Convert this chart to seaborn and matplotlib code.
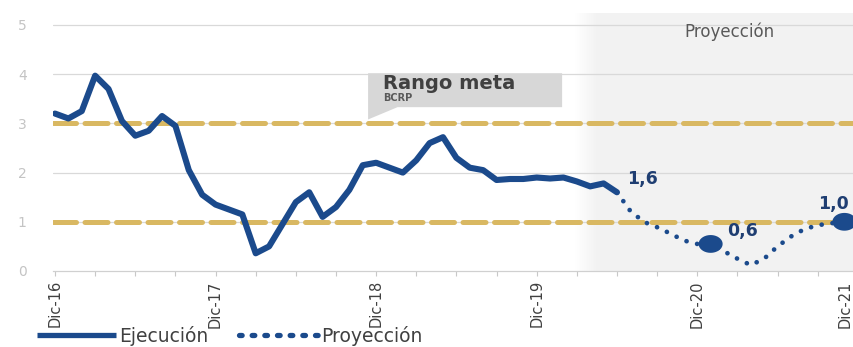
import numpy as np
import pandas as pd
import matplotlib
matplotlib.use("Agg")
import matplotlib.pyplot as plt
import matplotlib.transforms as mtransforms
from matplotlib.lines import Line2D
from matplotlib.patches import Polygon
from matplotlib.colors import LinearSegmentedColormap
import seaborn as sns

# ---------------- data ----------------
# month index 0 = Dic-16
exec_months = list(range(0, 43))
exec_values = [3.2, 3.1, 3.25, 3.97, 3.7, 3.05, 2.75, 2.85, 3.15, 2.95,
               2.05, 1.55, 1.35, 1.25, 1.15, 0.36, 0.5, 0.95, 1.4, 1.6,
               1.1, 1.3, 1.65, 2.15, 2.2, 2.1, 2.0, 2.25, 2.6, 2.72,
               2.3, 2.1, 2.05, 1.85, 1.87, 1.87, 1.9, 1.88, 1.9, 1.82,
               1.72, 1.78, 1.6]
proj_months = list(range(42, 60))
proj_values = [1.6, 1.22, 1.0, 0.89, 0.76, 0.62, 0.55, 0.55, 0.4, 0.25,
               0.12, 0.25, 0.5, 0.7, 0.85, 0.93, 0.97, 1.0]
marker_months = [49, 59]
marker_values = [0.55, 1.0]
label_months = [42, 49, 59]
label_values = [1.6, 0.55, 1.0]
label_texts = ["1,6", "0,6", "1,0"]
year_tick_labels = ["Dic-16", "Dic-17", "Dic-18", "Dic-19", "Dic-20", "Dic-21"]
target_band = [1, 3]
y_ticks = [0, 1, 2, 3, 4, 5]

NAVY = "#1b4a8c"
GOLD = "#d9b862"
GRID = "#d9d9d9"

sns.set_theme(style="white")
plt.rcParams["font.family"] = ["DejaVu Sans"]

W, H = 854, 347
fig = plt.figure(figsize=(W / 100, H / 100), dpi=100)
px_per_m = 13.38
x0_px = 55.0
xmin, xmax = -0.15, 62
left_px = x0_px + xmin * px_per_m
right_px = x0_px + xmax * px_per_m
y0_px = 271.0
px_per_u = 49.2
ytop = 5.25
ax = fig.add_axes([left_px / W, (H - y0_px) / H,
                   (right_px - left_px) / W, ytop * px_per_u / H])

# projection shading
shade_start = 40.6
ax.axvspan(shade_start, xmax, color="#f2f2f2", lw=0, zorder=0)
cmap = LinearSegmentedColormap.from_list("g", ["#ffffff", "#f2f2f2"])
ax.imshow(np.linspace(0, 1, 64).reshape(1, -1), extent=(38.9, shade_start, 0, ytop),
          cmap=cmap, aspect="auto", zorder=0, interpolation="bilinear")

# grid
for yv in y_ticks[1:]:
    ax.axhline(yv, color=GRID, lw=0.9, zorder=0.5)

# target band lines
for yv in target_band:
    ax.axhline(yv, color=GOLD, lw=3.6, zorder=1, dashes=(4.6, 1.7),
               dash_capstyle="round")

# execution line
df_exec = pd.DataFrame({"m": exec_months, "v": exec_values})
sns.lineplot(data=df_exec, x="m", y="v", ax=ax, color=NAVY, lw=4.4,
             zorder=3, solid_joinstyle="round", solid_capstyle="round")

# projection dotted line
df_proj = pd.DataFrame({"m": proj_months, "v": proj_values})
n_before = len(ax.lines)
sns.lineplot(data=df_proj, x="m", y="v", ax=ax, color=NAVY, lw=3.4, zorder=3)
for ln in ax.lines[n_before:]:
    ln.set_dashes((0.01, 2.3))
    ln.set_dash_capstyle("round")

# markers (slightly wide ellipses, like the reference)
t = np.linspace(0, 2 * np.pi, 40)
ellipse = list(zip(np.cos(t), 0.74 * np.sin(t)))
df_mk = pd.DataFrame({"m": marker_months, "v": marker_values})
sns.scatterplot(data=df_mk, x="m", y="v", ax=ax, color=NAVY, s=300,
                marker=ellipse, edgecolor="none", zorder=4)

# data labels
offsets = [(7, 3), (12, 3), (-19, 6)]
for m, v, txt, off in zip(label_months, label_values, label_texts, offsets):
    ax.annotate(txt, (m, v), xytext=off, textcoords="offset points",
                fontsize=12.5, fontweight="bold", color="#1f3e72",
                ha="left", va="bottom")

# callout "Rango meta"
poly = Polygon([(23.4, 4.02), (37.9, 4.02), (37.9, 3.33), (25.6, 3.33),
                (23.4, 3.08)], closed=True, facecolor="#d7d7d7",
               edgecolor="none", zorder=2)
ax.add_patch(poly)
ax.text(24.5, 3.82, "Rango meta", fontsize=14, fontweight="bold",
        color="#404040", va="center", ha="left", zorder=5)
ax.text(24.5, 3.51, "BCRP", fontsize=7, fontweight="bold",
        color="#595959", va="center", ha="left", zorder=5)

ax.text(50.4, 4.86, "Proyección", fontsize=12, color="#595959",
        ha="center", va="center", zorder=5)

# axes
ax.set_xlim(xmin, xmax)
ax.set_ylim(0, ytop)
ax.set_xlabel("")
ax.set_ylabel("")
ticks = list(range(0, 61, 3))
ax.set_xticks(ticks)
labels = [year_tick_labels[k // 12] if k % 12 == 0 else "" for k in ticks]
ax.set_xticklabels(labels, rotation=90, fontsize=10.5, color="#404040")
ax.set_yticks(y_ticks)
ax.set_yticklabels([str(v) for v in y_ticks], fontsize=10, color="#c4c4c4")
ax.tick_params(axis="x", direction="out", length=3.6, width=0.8,
               color="#c8c8c8", pad=3, bottom=True)
ax.tick_params(axis="y", length=0, pad=19)
for s in ["top", "right", "left"]:
    ax.spines[s].set_visible(False)
ax.spines["bottom"].set_color("#d0d0d0")
ax.spines["bottom"].set_linewidth(0.9)
ax.grid(False)
ax.set_facecolor("white")

# keep the last year label inside the picture
last = ax.get_xticklabels()[-1]
last.set_transform(last.get_transform() +
                   mtransforms.ScaledTranslation(-13 / 100, 0, fig.dpi_scale_trans))

# legend
handles = [Line2D([], [], color=NAVY, lw=3.8, solid_capstyle="butt"),
           Line2D([], [], color=NAVY, lw=3.8, dashes=(0.5, 1.9),
                  dash_capstyle="round")]
leg = fig.legend(handles, ["Ejecución", "Proyección"], loc="center left",
                 bbox_to_anchor=(37 / W, 1 - 336 / H), ncol=2, frameon=False,
                 fontsize=13.5, handlelength=4.2, handletextpad=0.2,
                 columnspacing=1.6, borderpad=0, borderaxespad=0)
for txt in leg.get_texts():
    txt.set_color("#404040")

fig.savefig("out.png", dpi=100)
